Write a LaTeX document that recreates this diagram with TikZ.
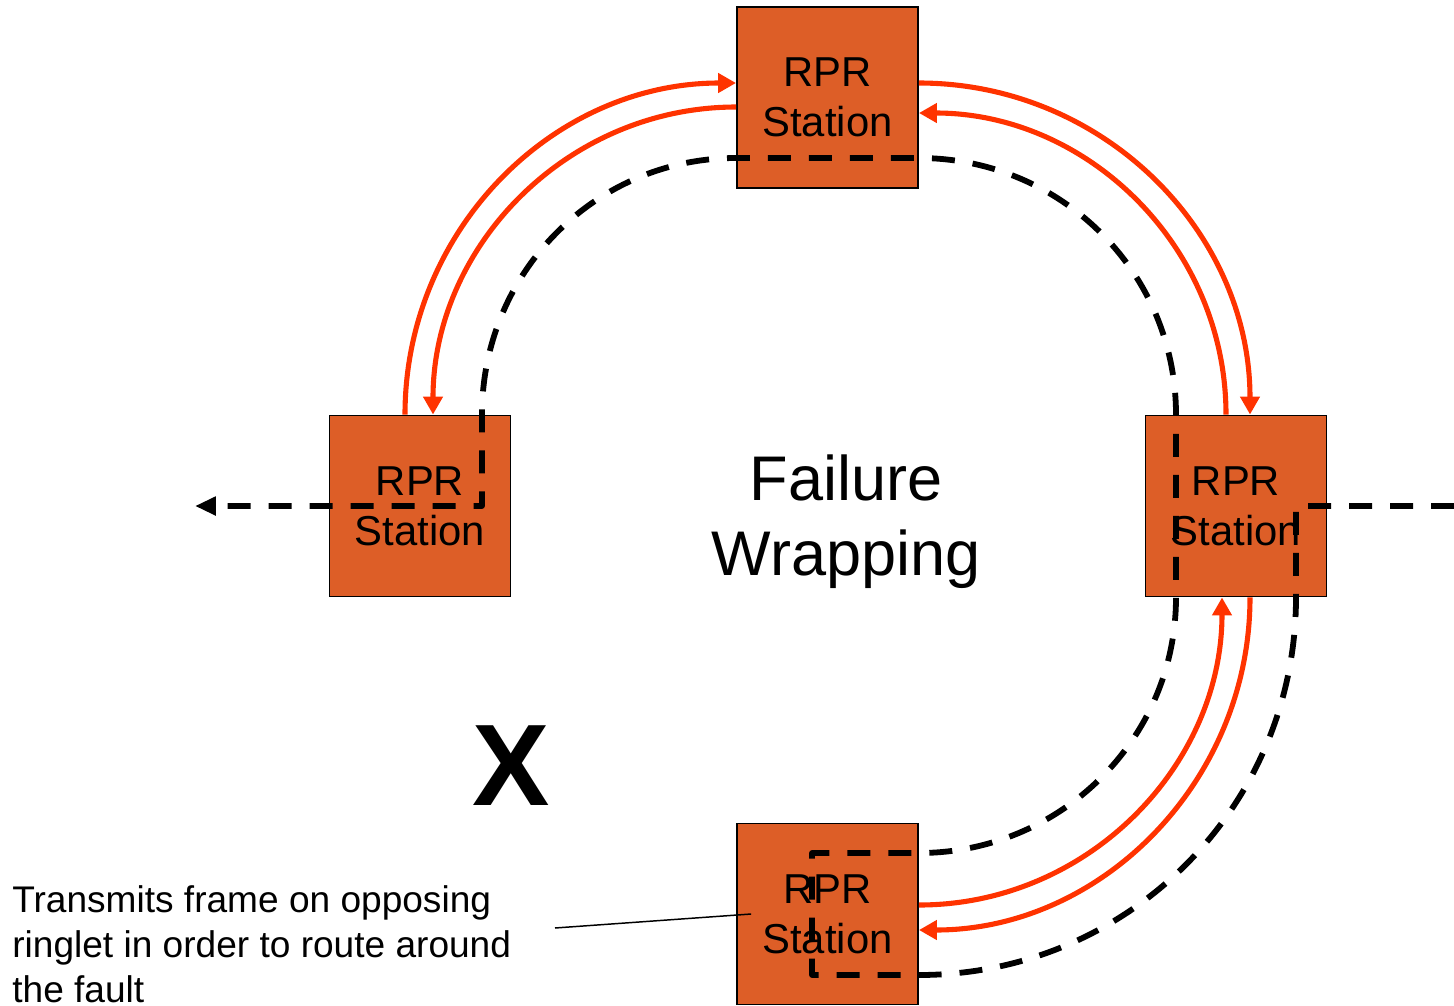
\documentclass[tikz,border=0pt]{standalone}
\usepackage{fontspec}
\setmainfont{Liberation Sans}
\usepackage{tikz}
\usetikzlibrary{arrows.meta}
\usetikzlibrary{calc}
\usetikzlibrary{positioning}
\definecolor{rprfill}{RGB}{221,94,39}
\definecolor{ringred}{RGB}{255,51,0}

\begin{document}
\begin{tikzpicture}[x=0.02cm, y=0.02cm,
    station/.style={draw=black, line width=1.1pt, fill=rprfill, minimum size=3.62cm,
      inner sep=0, align=center, font=\fontsize{23.8pt}{28.5pt}\selectfont},
    ringlet/.style={draw=ringred, line width=2.9pt, -{Triangle[length=0.36cm, width=0.38cm]}},
    wrap/.style={draw=black, line width=3.3pt, dash pattern=on 0.46cm off 0.36cm,
      line join=round, -{Triangle[length=0.42cm, width=0.36cm]}}]
  \useasboundingbox (0,0) rectangle (1454,-1005);

  % stations on the ring
  \node[station] (T) at (827.5,-97.5) {RPR\\Station};
  \node[station] (L) at (420,-506) {RPR\\Station};
  \node[station] (R) at (1236,-506) {RPR\\Station};
  \node[station] (B) at (827.5,-914) {RPR\\Station};

  \node[font=\fontsize{35.9pt}{42.7pt}\selectfont, align=center] (title) at (846,-522) {Failure\\Wrapping};
  \node[font=\fontsize{66pt}{70pt}\selectfont\bfseries, inner sep=0] (fault) at (511,-766) {X};

  % the two ringlets
  \draw[ringlet] ($(L.north)+(-15,0)$) to[out=90, in=180] ($(T.west)+(0,14.5)$);
  \draw[ringlet] ($(T.west)+(0,-9.5)$) to[out=180, in=90] ($(L.north)+(13,0)$);
  \draw[ringlet] ($(T.east)+(0,14.5)$) to[out=0, in=90] ($(R.north)+(14,0)$);
  \draw[ringlet] ($(R.north)+(-10,0)$) to[out=90, in=0] ($(T.east)+(0,-15.5)$);
  \draw[ringlet] ($(B.east)+(0,9)$) to[out=0, in=-90] ($(R.south)+(-14,0)$);
  \draw[ringlet] ($(R.south)+(14,0)$) to[out=-90, in=0] ($(B.east)+(0,-16)$);

  % wrapped frame path
  \coordinate (wrapin) at (1454,-506);
  \coordinate (wrapout) at (195,-506);
  \draw[wrap] (wrapin) -- ($(R.center)+(60,0)$) -- ($(R.south)+(60,0)$)
    to[out=-90, in=0] ($(B.east)+(0,-61)$) -- ($(B.center)+(-15.5,-61)$)
    -- ($(B.center)+(-15.5,61)$) -- ($(B.east)+(0,61)$)
    to[out=0, in=-90] ($(R.south)+(-60,0)$) -- ($(R.north)+(-60,0)$)
    to[out=90, in=0] ($(T.east)+(0,-60.5)$) -- ($(T.west)+(0,-60.5)$)
    to[out=180, in=90] ($(L.north)+(62,0)$) -- ($(L.center)+(62,0)$) -- (wrapout);

  % annotation
  \node[anchor=north west, inner sep=0, align=left, font=\fontsize{21.1pt}{25.6pt}\selectfont] (note) at (12,-885)
    {Transmits frame on opposing\\ringlet in order to route around\\the fault};
  \coordinate (notefrom) at (555,-928);
  \draw[line width=0.85pt] (notefrom) -- ($(B.west)+(15,0)$);
\end{tikzpicture}
\end{document}
